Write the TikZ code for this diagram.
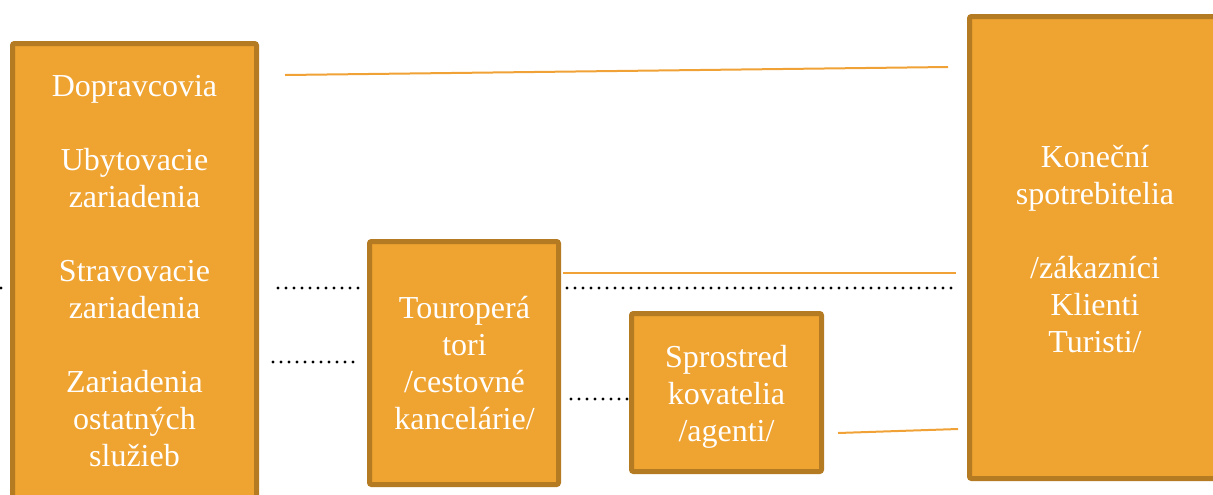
\documentclass[tikz,border=0pt]{standalone}
\usepackage{fontspec}
\setmainfont{Liberation Serif}

\definecolor{boxfill}{HTML}{EFA330}
\definecolor{boxedge}{HTML}{B47B22}
\definecolor{linkline}{HTML}{F0A236}

\tikzset{
  stage/.style={draw=boxedge, fill=boxfill, line width=2.5pt, rounded corners=1pt,
    inner sep=0pt, outer sep=0pt, anchor=north west},
  stagetext/.style={text=white, align=center, inner sep=0pt,
    font=\fontsize{16}{18.5}\selectfont},
  link/.style={draw=linkline, line width=1pt},
  dots/.style={draw=black, line width=1.6pt, line cap=round, dash pattern=on 0pt off 4pt},
}

\begin{document}
\begin{tikzpicture}[x=0.5pt,y=-0.5pt]
    \useasboundingbox (0,0) rectangle (1213,494);
    \clip (0,0) rectangle (1213,494);

    % boxes
    \node[stage, minimum width=122pt, minimum height=233pt] (prod) at (12.5,43.5) {};
    \node[stage, minimum width=94.5pt, minimum height=121.5pt] (tour) at (369.5,241.5) {};
    \node[stage, minimum width=95pt, minimum height=79pt] (agent) at (631.5,313.5) {};
    \node[stage, minimum width=125.5pt, minimum height=231pt] (cons) at (969.5,16.5) {};

    \node[stagetext] (prodtxt) at (134.5,271.5)
      {Dopravcovia\\[18.5pt]Ubytovacie\\zariadenia\\[18.5pt]Stravovacie\\zariadenia\\[18.5pt]Zariadenia\\ostatných\\služieb};
    \node[stagetext] (tourtxt) at (464.5,363) {Touroperá\\tori\\/cestovné\\kancelárie/};
    \node[stagetext] (agenttxt) at (726.5,397) {Sprostred\\kovatelia\\/agenti/};
    \node[stagetext] (constxt) at (1095,249) {Koneční\\spotrebitelia\\[18.5pt]/zákazníci\\Klienti\\Turisti/};

    % thin orange lines
    \coordinate (l1a) at (285,75);  \coordinate (l1b) at (948,67);
    \coordinate (l2a) at (563,273); \coordinate (l2b) at (956,273);
    \coordinate (l3a) at (838,433); \coordinate (l3b) at (958,429);
    \draw[link] (l1a) -- (l1b);
    \draw[link] (l2a) -- (l2b);
    \draw[link] (l3a) -- (l3b);

    % dotted lines
    \coordinate (d0a) at (1,288);   \coordinate (d0b) at (8,288);
    \coordinate (d1a) at (278,288); \coordinate (d1b) at (364,288);
    \coordinate (d2a) at (567,288); \coordinate (d2b) at (953,288);
    \coordinate (d3a) at (273,362); \coordinate (d3b) at (354,362);
    \coordinate (d4a) at (571,399); \coordinate (d4b) at (628,399);
    \draw[dots] (d0a) -- (d0b);
    \draw[dots] (d1a) -- (d1b);
    \draw[dots] (d2a) -- (d2b);
    \draw[dots] (d3a) -- (d3b);
    \draw[dots] (d4a) -- (d4b);
  \end{tikzpicture}
\end{document}
